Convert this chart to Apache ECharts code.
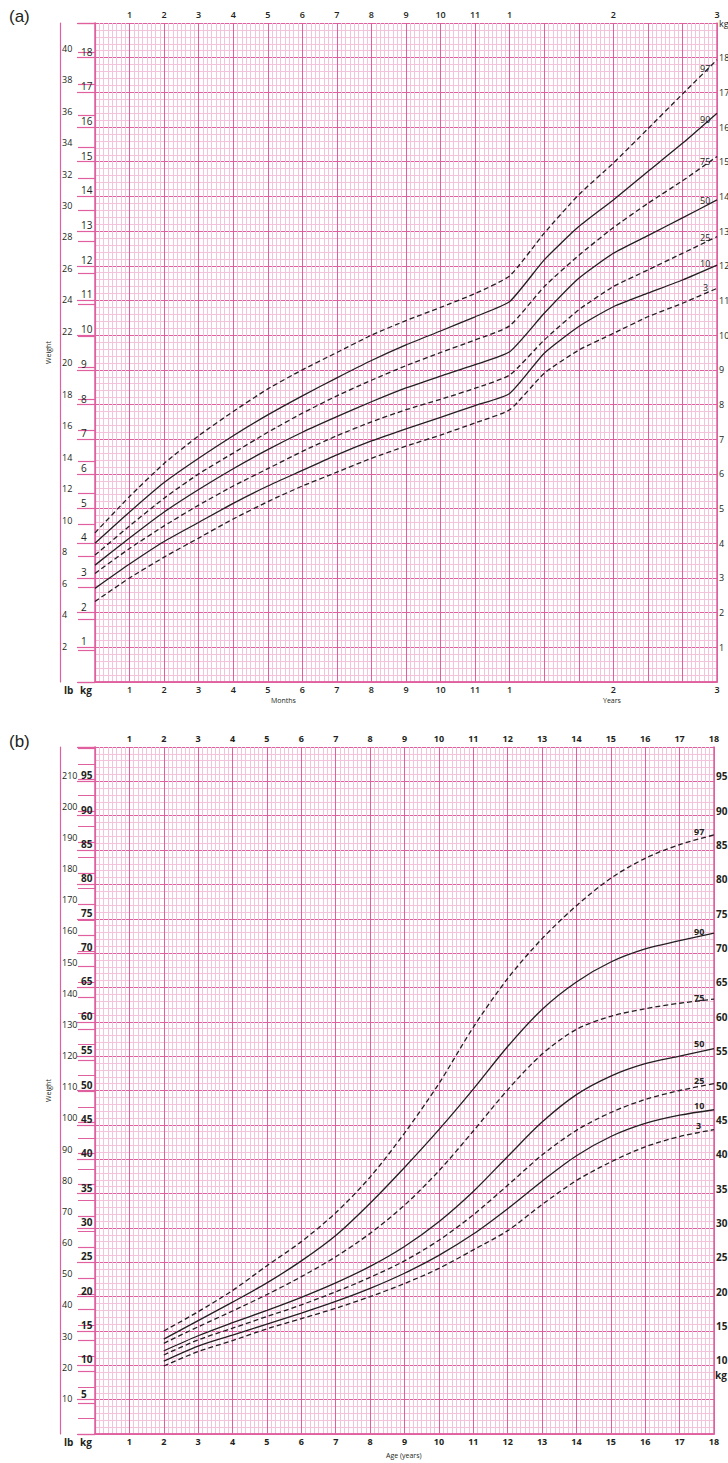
<!DOCTYPE html>
<html>
<head>
<meta charset="utf-8">
<title>Weight charts</title>
<script src="https://cdn.jsdelivr.net/npm/echarts@6/dist/echarts.min.js"></script>
<style>
  body { margin: 0; background: #fff; }
  #main { width: 728px; height: 1463px; }
</style>
</head>
<body>
<div id="main"></div>
<script>
// (a) birth to 3 years. x is in month units; after the first birthday a year spans 3 units
var infantX = [0, 1, 2, 3, 4, 5, 6, 7, 8, 9, 10, 11, 12, 13, 14, 15, 16, 17, 18];
var infantTicks = ['', '1', '2', '3', '4', '5', '6', '7', '8', '9', '10', '11', '1', '', '', '2', '', '', '3'];
var infantP97 = [4.3, 5.35, 6.3, 7.1, 7.8, 8.45, 9.0, 9.5, 10.0, 10.42, 10.8, 11.2, 11.71, 12.94, 14.05, 14.96, 15.95, 16.95, 17.94];
var infantP90 = [4.0, 4.9, 5.75, 6.45, 7.1, 7.7, 8.25, 8.77, 9.27, 9.72, 10.12, 10.53, 10.97, 12.17, 13.13, 13.9, 14.72, 15.53, 16.4];
var infantP75 = [3.66, 4.5, 5.3, 6.0, 6.6, 7.2, 7.75, 8.25, 8.7, 9.12, 9.5, 9.86, 10.27, 11.4, 12.3, 13.1, 13.8, 14.45, 15.15];
var infantP50 = [3.37, 4.15, 4.9, 5.55, 6.15, 6.7, 7.2, 7.65, 8.08, 8.48, 8.82, 9.15, 9.52, 10.63, 11.64, 12.36, 12.87, 13.38, 13.9];
var infantP25 = [3.13, 3.85, 4.5, 5.1, 5.65, 6.15, 6.65, 7.1, 7.5, 7.85, 8.15, 8.47, 8.85, 9.86, 10.73, 11.4, 11.88, 12.36, 12.84];
var infantP10 = [2.7, 3.4, 4.05, 4.6, 5.15, 5.65, 6.1, 6.55, 6.95, 7.3, 7.63, 7.97, 8.32, 9.48, 10.25, 10.82, 11.21, 11.59, 12.02];
var infantP3 = [2.32, 3.0, 3.6, 4.15, 4.7, 5.2, 5.65, 6.05, 6.45, 6.8, 7.12, 7.47, 7.85, 8.9, 9.57, 10.05, 10.53, 10.92, 11.35];

// (b) 2 to 18 years
var childAge = [2, 3, 4, 5, 6, 7, 8, 9, 10, 11, 12, 13, 14, 15, 16, 17, 18];
var childP97 = [15.0, 17.8, 20.9, 24.5, 28.0, 32.2, 37.4, 43.8, 51.0, 59.2, 66.3, 72.1, 76.9, 80.9, 83.8, 85.8, 87.2];
var childP90 = [13.8, 16.5, 19.2, 22.0, 25.2, 28.9, 33.6, 38.8, 44.3, 50.2, 56.4, 61.8, 65.8, 68.7, 70.6, 71.8, 72.9];
var childP75 = [13.2, 15.6, 17.9, 20.3, 22.9, 25.8, 29.2, 33.3, 38.3, 44.1, 50.1, 55.3, 58.9, 60.8, 61.9, 62.7, 63.3];
var childP50 = [12.1, 14.3, 16.2, 18.0, 19.9, 22.0, 24.4, 27.3, 30.9, 35.3, 40.4, 45.4, 49.4, 52.1, 53.9, 55.0, 56.1];
var childP25 = [11.5, 13.7, 15.4, 17.1, 18.8, 20.7, 22.8, 25.2, 28.2, 31.9, 36.2, 40.6, 44.2, 46.8, 48.7, 50.0, 51.0];
var childP10 = [10.6, 12.8, 14.4, 16.0, 17.6, 19.3, 21.2, 23.4, 26.0, 29.1, 32.8, 36.8, 40.5, 43.3, 45.2, 46.4, 47.2];
var childP3 = [9.9, 12.0, 13.6, 15.3, 16.8, 18.3, 20.0, 21.9, 24.1, 26.8, 29.6, 33.4, 36.9, 39.6, 41.8, 43.3, 44.3];

var LB = 0.45359237;
var MAJOR = '#e0609f';
var MINOR = '#f3c3dc';
var INK = '#231f20';
var FONT = 'Open Sans';

var chart = echarts.init(document.getElementById('main'), null, {renderer: 'svg'});

function isWhole(v, step) {
    var r = v / step;
    return Math.abs(r - Math.round(r)) < 1e-6;
}

function xAxes(grid, ticks, bold, minorSplit) {
    var fmt = function (v) {
        var i = Math.round(v);
        if (!isWhole(v, 1)) return '';
        return ticks[i] || '';
    };
    var lbl = {formatter: fmt, color: INK, fontSize: 9, fontFamily: FONT, fontWeight: bold ? 'bold' : 600, margin: 3};
    return [{
        gridIndex: grid, type: 'value', position: 'bottom', min: 0, max: 18, interval: 1,
        axisLine: {show: true, lineStyle: {color: MAJOR, width: 1.5}},
        axisTick: {show: false},
        axisLabel: lbl,
        splitLine: {show: true, lineStyle: {color: MAJOR, width: 1}},
        minorTick: {show: false, splitNumber: minorSplit},
        minorSplitLine: {show: true, lineStyle: {color: MINOR, width: 1}}
    }, {
        gridIndex: grid, type: 'value', position: 'top', min: 0, max: 18, interval: 1,
        axisLine: {show: true, lineStyle: {color: MAJOR, width: 1.5}},
        axisTick: {show: false},
        axisLabel: Object.assign({}, lbl, {margin: 4}),
        splitLine: {show: false}
    }];
}

function yAxes(grid, kgMax, kgStep, kgMinor, lbStep, lbMinor, bold, rightFmt, rightAlign, rightSize) {
    var lbMax = kgMax / LB;
    var kgText = {color: INK, fontSize: 10, fontFamily: FONT, fontWeight: bold ? 'bold' : 'normal'};
    return [{
        // kg column, labels sit just above their line
        gridIndex: grid, type: 'value', position: 'left', min: 0, max: kgMax, interval: kgStep,
        axisLine: {show: true, lineStyle: {color: MAJOR, width: 1.5}},
        axisTick: {show: true, length: 18, lineStyle: {color: MAJOR, width: 1.2}},
        axisLabel: Object.assign({}, kgText, {
            align: 'left', verticalAlign: 'bottom', margin: 14, padding: [0, 0, 1, 0],
            formatter: function (v) { return (v > 0 && v < kgMax && isWhole(v, kgStep)) ? String(v) : ''; }
        }),
        splitLine: {show: true, lineStyle: {color: MAJOR, width: 1}},
        minorTick: {show: false, splitNumber: kgMinor},
        minorSplitLine: {show: true, lineStyle: {color: MINOR, width: 1}}
    }, {
        // lb column
        gridIndex: grid, type: 'value', position: 'left', offset: 18, min: 0, max: lbMax, interval: lbStep,
        axisLine: {show: true, lineStyle: {color: MAJOR, width: 1.2}},
        axisTick: {show: true, length: 17, lineStyle: {color: MAJOR, width: 1.2}},
        minorTick: {show: lbMinor > 1, splitNumber: lbMinor, length: 17, lineStyle: {color: MAJOR, width: 1}},
        axisLabel: {
            color: INK, fontSize: 9, fontFamily: FONT, align: 'left', verticalAlign: 'bottom', margin: 15,
            formatter: function (v) { return (v > 0 && v < lbMax - 1 && isWhole(v, lbStep)) ? String(Math.round(v)) : ''; }
        },
        splitLine: {show: false}
    }, {
        // outer border of the lb column, carries the axis title
        gridIndex: grid, type: 'value', position: 'left', offset: 35, min: 0, max: kgMax,
        name: 'Weight', nameLocation: 'middle', nameGap: 8, nameRotate: 90,
        nameTextStyle: {color: INK, fontSize: 7, fontFamily: FONT},
        axisLine: {show: true, lineStyle: {color: MAJOR, width: 1.2}},
        axisTick: {show: false}, axisLabel: {show: false}, splitLine: {show: false}
    }, {
        gridIndex: grid, type: 'value', position: 'right', min: 0, max: kgMax, interval: kgStep,
        axisLine: {show: true, lineStyle: {color: MAJOR, width: 1.5}},
        axisTick: {show: false},
        axisLabel: Object.assign({}, kgText, {
            align: 'left', verticalAlign: rightAlign, margin: 2, showMaxLabel: true,
            fontSize: rightSize, formatter: rightFmt
        }),
        splitLine: {show: false}
    }];
}

var centileNames = ['97', '90', '75', '50', '25', '10', '3'];
var infantSets = [infantP97, infantP90, infantP75, infantP50, infantP25, infantP10, infantP3];
var childSets = [childP97, childP90, childP75, childP50, childP25, childP10, childP3];
// where each centile number sits relative to the curve's end
var infantLabelShift = [[-25, 9], [-25, 6], [-25, 5], [-25, 1], [-25, 1], [-25, -2], [-22, -1]];
var childLabelShift = [[-28, -3], [-28, -2], [-28, -2], [-28, -5], [-28, -3], [-28, -4], [-26, -4]];

function centileSeries(xs, sets, xIdx, yIdx, smooth, bold, shifts) {
    return sets.map(function (ys, k) {
        var dashed = (k % 2 === 0);
        return {
            name: centileNames[k],
            type: 'line',
            xAxisIndex: xIdx, yAxisIndex: yIdx,
            data: xs.map(function (x, i) { return [x, ys[i]]; }),
            smooth: smooth,
            symbol: 'none',
            z: 5,
            lineStyle: {color: INK, width: 1.3, type: dashed ? [5, 3] : 'solid'},
            endLabel: {
                show: true, formatter: centileNames[k], offset: shifts[k],
                color: INK, fontSize: 9, fontFamily: FONT, fontWeight: bold ? 'bold' : 'normal'
            },
            emphasis: {disabled: true}
        };
    });
}

var ax = xAxes(0, infantTicks, false, 8);
var childTickLabels = [];
for (var i = 0; i <= 18; i++) childTickLabels.push(i === 0 ? '' : String(i));
var bx = xAxes(1, childTickLabels, true, 8);

var ay = yAxes(0, 19, 1, 5, 2, 1, false, function (v) {
    if (v >= 19) return 'kg';
    return (v > 0 && isWhole(v, 1)) ? String(v) : '';
}, 'middle', 9);
var by = yAxes(1, 100, 5, 5, 10, 2, true, function (v) {
    return (v > 5 && v < 100 && isWhole(v, 5)) ? String(v) : '';
}, 'bottom', 10);

var small = {fill: INK, fontSize: 7, fontFamily: FONT};
var colHead = {fill: INK, fontSize: 10, fontWeight: 'bold', fontFamily: FONT};

chart.setOption({
    backgroundColor: '#fff',
    animation: false,
    title: [
        {text: '(a)', left: 4, top: 3, textStyle: {color: INK, fontSize: 17, fontWeight: 'normal', fontFamily: 'Liberation Sans'}},
        {text: '(b)', left: 4, top: 728, textStyle: {color: INK, fontSize: 17, fontWeight: 'normal', fontFamily: 'Liberation Sans'}}
    ],
    grid: [
        {left: 95, top: 23, width: 622, height: 659, outerBoundsMode: 'none'},
        {left: 95, top: 747, width: 619, height: 687, outerBoundsMode: 'none'}
    ],
    xAxis: ax.concat(bx),
    yAxis: ay.concat(by),
    series: centileSeries(infantX, infantSets, 0, 0, 0.18, false, infantLabelShift)
        .concat(centileSeries(childAge, childSets, 2, 4, 0.3, true, childLabelShift)),
    graphic: [
        {type: 'text', left: 64, top: 685, style: Object.assign({text: 'lb'}, colHead)},
        {type: 'text', left: 80, top: 685, style: Object.assign({text: 'kg'}, colHead)},
        {type: 'text', left: 271, top: 697, style: Object.assign({text: 'Months'}, small)},
        {type: 'text', left: 603, top: 697, style: Object.assign({text: 'Years'}, small)},
        {type: 'text', left: 64, top: 1437, style: Object.assign({text: 'lb'}, colHead)},
        {type: 'text', left: 80, top: 1437, style: Object.assign({text: 'kg'}, colHead)},
        {type: 'text', left: 386, top: 1452, style: Object.assign({text: 'Age (years)'}, small)},
        {type: 'text', left: 715, top: 1370, style: Object.assign({text: 'kg'}, colHead)}
    ]
});
</script>
</body>
</html>
